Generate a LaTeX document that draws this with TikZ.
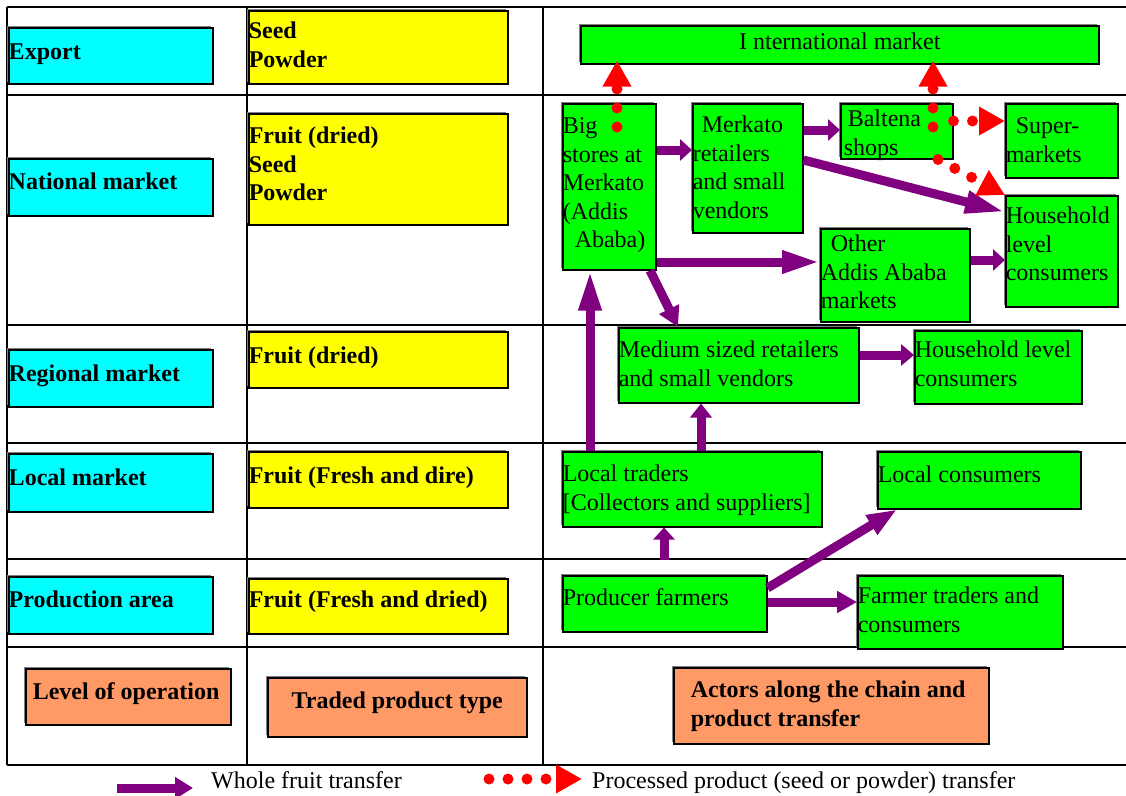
\documentclass[tikz,border=0pt]{standalone}
\usepackage{fontspec}
\setmainfont{Liberation Serif}
\usetikzlibrary{arrows.meta,shadows}
\definecolor{cy}{HTML}{00FFFF}
\definecolor{ye}{HTML}{FFFF00}
\definecolor{gr}{HTML}{00FF00}
\definecolor{orng}{HTML}{FF9966}
\definecolor{purp}{HTML}{800080}
\definecolor{rd}{HTML}{FF0000}
\newcommand\bt[4]{\parbox[t][#2pt][t]{#1pt}{\raggedright\rule{0pt}{#3pt}#4}}
\tikzset{
  box/.style={draw=black, line width=1.5pt, inner sep=0pt, anchor=north west,
    general shadow={shadow xshift=-2pt,shadow yshift=2pt,fill=black!50},
    font=\fontsize{24}{28.5}\selectfont},
  cbox/.style={box, fill=cy, font=\fontsize{24}{28.5}\selectfont\bfseries},
  ybox/.style={box, fill=ye, font=\fontsize{24}{28.5}\selectfont\bfseries},
  obox/.style={box, fill=orng, font=\fontsize{24}{28.5}\selectfont\bfseries},
  gbox/.style={box, fill=gr},
  grid/.style={draw=black, line width=2pt},
  parr/.style={draw=purp, line width=9pt, -{Triangle[length=#1, width=21pt]}},
  parr/.default=14pt,
  rarr/.style={draw=rd, line width=11pt, line cap=round, dash pattern=on 0pt off 19pt,
    -{Triangle[length=26pt, width=27pt]}},
  legtxt/.style={inner sep=0pt, anchor=base west, font=\fontsize{24}{28.5}\selectfont}
}
\begin{document}
\begin{tikzpicture}[x=1pt,y=-1pt]
\fill[white] (0,0) rectangle (1126,795);
\useasboundingbox (0,0) rectangle (1126,795);
% grid
\draw[grid] (7,7) -- (1126,7);
\draw[grid] (7,95) -- (1126,95);
\draw[grid] (7,325) -- (1126,325);
\draw[grid] (7,443) -- (1126,443);
\draw[grid] (7,559) -- (1126,559);
\draw[grid] (7,647) -- (1126,647);
\draw[grid] (7,765) -- (1126,765);
\draw[grid] (7,7) -- (7,765);
\draw[grid] (247,7) -- (247,765);
\draw[grid] (543,7) -- (543,765);
% level of operation
\node[cbox] (c1) at (8,27) {\bt{204}{56}{32}{Export}};
\node[cbox] (c2) at (8,158) {\bt{204}{57}{31}{National market}};
\node[cbox] (c3) at (8,349) {\bt{204}{57}{32}{Regional market}};
\node[cbox] (c4) at (8,453) {\bt{204}{58}{32}{Local market}};
\node[cbox] (c5) at (8,576) {\bt{204}{57}{31}{Production area}};
% product type
\node[ybox] (y1) at (248,10) {\bt{259}{73}{28}{Seed\\Powder}};
\node[ybox] (y2) at (248,113) {\bt{259}{111}{30}{Fruit (dried)\\Seed\\Powder}};
\node[ybox] (y3) at (248,331) {\bt{259}{56}{32}{Fruit (dried)}};
\node[ybox] (y4) at (248,451) {\bt{259}{56}{32}{Fruit (Fresh and dire)}};
\node[ybox] (y5) at (248,578) {\bt{259}{55}{29}{Fruit (Fresh and dried)}};
% actors
\node[gbox] (im) at (580,25) {\bt{518}{38}{24}{\centering I nternational market}};
\node[gbox] (bs) at (562,103) {\bt{93}{166}{30}{Big\\stores at\\Merkato\\(Addis\\\hspace*{12pt}Ababa)}};
\node[gbox] (mr) at (692,103) {\bt{110}{129}{29}{\hspace*{9pt}Merkato\\retailers\\and small\\vendors}};
\node[gbox] (bal) at (840,103) {\bt{112}{55}{23}{\hspace*{7pt}Baltena\\\hspace*{3pt}shops}};
\node[gbox] (sup) at (1005,103) {\bt{112}{74}{30}{\hspace*{10pt}Super-\\markets}};
\node[gbox] (hh1) at (1005,195) {\bt{112}{111}{28}{Household\\level\\consumers}};
\node[gbox] (oth) at (820,228) {\bt{149}{93}{23}{\hspace*{10pt}Other\\Addis Ababa\\markets}};
\node[gbox] (med) at (618,327) {\bt{240}{75}{30}{Medium sized retailers\\and small vendors}};
\node[gbox] (hh2) at (914,330) {\bt{167}{73}{27}{Household level\\consumers}};
\node[gbox] (lt) at (562,451) {\bt{259}{75}{30}{Local traders\\{}[Collectors and suppliers]}};
\node[gbox] (lc) at (877,451) {\bt{203}{57}{31}{Local consumers}};
\node[gbox] (pf) at (562,575) {\bt{204}{56}{30}{Producer farmers}};
\node[gbox] (ft) at (857,575) {\bt{205}{73}{28}{Farmer traders and\\consumers}};
% headers
\node[obox] (lo) at (25,668) {\bt{205}{56}{31}{\hspace*{7pt}Level of operation}};
\node[obox] (tp) at (267,677) {\bt{259}{59}{31}{\centering Traded product type}};
\node[obox] (ac) at (673,667) {\bt{315}{76}{30}{\hspace*{17pt}Actors along the chain and\\\hspace*{17pt}product transfer}};
% whole fruit transfer
\draw[parr=12pt] (bs.east |- 0,150) -- (mr.west |- 0,150);
\draw[parr=12pt] (mr.east |- 0,130) -- (bal.west |- 0,130);
\draw[parr=40pt] (mr.east |- 0,160) -- (hh1.west |- 0,212);
\draw[parr=38pt] (bs.east |- 0,262) -- (oth.west |- 0,262);
\draw[parr=12pt] (oth.east |- 0,260) -- (hh1.west |- 0,260);
\draw[parr=20pt] (bs.south -| 650,0) -- (med.north -| 678,0);
\draw[parr=40pt] (lt.north -| 590,0) -- (bs.south -| 590,0);
\draw[parr=14pt] (lt.north -| 701,0) -- (med.south -| 701,0);
\draw[parr=13pt] (med.east |- 0,355) -- (hh2.west |- 0,355);
\draw[parr=12pt, shorten <=15pt] (pf.north -| 664,0) -- (lt.south -| 664,0);
\draw[parr=30pt] (pf.east |- 0,588) -- (lc.south -| 897,0);
\draw[parr=20pt] (pf.east |- 0,602) -- (ft.west |- 0,602);
% processed product transfer
\draw[rarr, shorten <=-24pt, shorten >=-4pt] (bs.north -| 617,0) -- (im.south -| 617,0);
\draw[rarr, shorten <=-24pt, shorten >=-4pt] (bal.north -| 933,0) -- (im.south -| 933,0);
\draw[rarr] (bal.east |- 0,121) -- (sup.west |- 0,121);
\draw[rarr] (bal.south -| 938,0) -- (hh1.north west);
% legend
\coordinate (lg1s) at (117,788);
\coordinate (lg1e) at (193,788);
\draw[parr=18pt] (lg1s) -- (lg1e);
\node[legtxt] (lg1t) at (211,788) {Whole fruit transfer};
\coordinate (lg2s) at (489,779);
\coordinate (lg2e) at (582,779);
\draw[rarr] (lg2s) -- (lg2e);
\node[legtxt] (lg2t) at (592,788) {Processed product (seed or powder) transfer};
\end{tikzpicture}
\end{document}
